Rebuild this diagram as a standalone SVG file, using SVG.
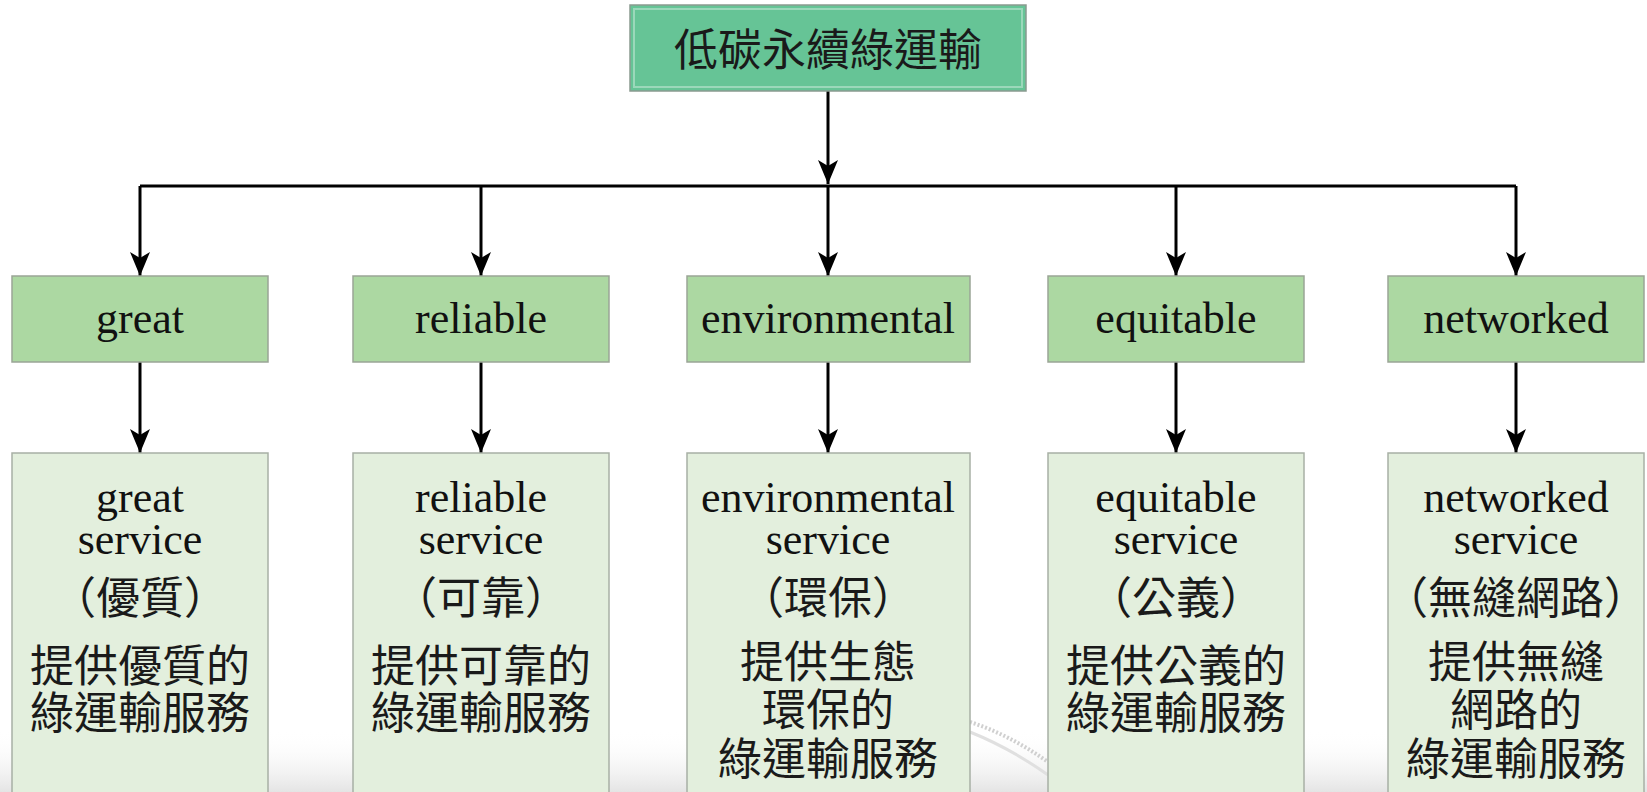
<svg xmlns="http://www.w3.org/2000/svg" width="1647" height="792" viewBox="0 0 1647 792">
<style>
.lat{font-family:"Liberation Serif","Noto Sans CJK TC",serif;font-size:44px;fill:#111;text-anchor:middle}
.cjk{font-family:"Noto Sans CJK TC","Liberation Sans",sans-serif;font-size:44px;fill:#1a1a1a;text-anchor:middle}
.top{fill:#66c496;stroke:#8a9a90;stroke-width:1.5}
.mid{fill:#acd8a2;stroke:#9aa596;stroke-width:1.5}
.low{fill:#e3efdd;stroke:#a8b0a5;stroke-width:1.5}
.inner{fill:none;stroke:#ffffff;stroke-opacity:0.35;stroke-width:2}
.conn{stroke:#000;stroke-width:3;fill:none}
</style>
<defs>
<marker id="ah" viewBox="0 0 24 20" refX="24" refY="10" markerUnits="userSpaceOnUse" markerWidth="24" markerHeight="20" orient="auto">
<path d="M0,0 L24,10 L0,20 L6,10 Z" fill="#000"/>
</marker>
<linearGradient id="bg" x1="0" y1="0" x2="0" y2="1">
<stop offset="0" stop-color="#ffffff" stop-opacity="0"/>
<stop offset="1" stop-color="#e4e4e4"/>
</linearGradient>
</defs>
<rect x="0" y="0" width="1647" height="792" fill="#fff"/>
<rect x="0" y="730" width="1647" height="62" fill="url(#bg)"/>
<path d="M970,722 Q1010,735 1048,762" stroke="#d0d0d0" stroke-width="4" fill="none" stroke-dasharray="2 2"/>
<path d="M970,732 Q1010,748 1048,775" stroke="#e0e0e0" stroke-width="3" fill="none"/>

<g id="conns">
<path class="conn" d="M828,91 V184" marker-end="url(#ah)"/>
<path class="conn" d="M140,186 H1516"/>
<path class="conn" d="M140,186 V276" marker-end="url(#ah)"/>
<path class="conn" d="M481,186 V276" marker-end="url(#ah)"/>
<path class="conn" d="M828,186 V276" marker-end="url(#ah)"/>
<path class="conn" d="M1176,186 V276" marker-end="url(#ah)"/>
<path class="conn" d="M1516,186 V276" marker-end="url(#ah)"/>
<path class="conn" d="M140,362 V453" marker-end="url(#ah)"/>
<path class="conn" d="M481,362 V453" marker-end="url(#ah)"/>
<path class="conn" d="M828,362 V453" marker-end="url(#ah)"/>
<path class="conn" d="M1176,362 V453" marker-end="url(#ah)"/>
<path class="conn" d="M1516,362 V453" marker-end="url(#ah)"/>
</g>

<g id="root">
<rect class="top" x="630" y="5" width="396" height="86"/>
<rect class="inner" x="634" y="9" width="388" height="78"/>
<text class="cjk" x="828" y="66">低碳永續綠運輸</text>
</g>

<g id="great">
<rect class="mid" x="12" y="276" width="256" height="86"/>
<text class="lat" x="140" y="333">great</text>
</g>
<g id="reliable">
<rect class="mid" x="353" y="276" width="256" height="86"/>
<text class="lat" x="481" y="333">reliable</text>
</g>
<g id="environmental">
<rect class="mid" x="687" y="276" width="283" height="86"/>
<text class="lat" x="828" y="333">environmental</text>
</g>
<g id="equitable">
<rect class="mid" x="1048" y="276" width="256" height="86"/>
<text class="lat" x="1176" y="333">equitable</text>
</g>
<g id="networked">
<rect class="mid" x="1388" y="276" width="256" height="86"/>
<text class="lat" x="1516" y="333">networked</text>
</g>

<g id="great-service">
<rect class="low" x="12" y="453" width="256" height="350"/>
<text class="lat" x="140" y="512">great</text>
<text class="lat" x="140" y="554">service</text>
<text class="cjk" x="140" y="614">（優質）</text>
<text class="cjk" x="140" y="682">提供優質的</text>
<text class="cjk" x="140" y="729">綠運輸服務</text>
</g>
<g id="reliable-service">
<rect class="low" x="353" y="453" width="256" height="350"/>
<text class="lat" x="481" y="512">reliable</text>
<text class="lat" x="481" y="554">service</text>
<text class="cjk" x="481" y="614">（可靠）</text>
<text class="cjk" x="481" y="682">提供可靠的</text>
<text class="cjk" x="481" y="729">綠運輸服務</text>
</g>
<g id="environmental-service">
<rect class="low" x="687" y="453" width="283" height="350"/>
<text class="lat" x="828" y="512">environmental</text>
<text class="lat" x="828" y="554">service</text>
<text class="cjk" x="828" y="614">（環保）</text>
<text class="cjk" x="828" y="678">提供生態</text>
<text class="cjk" x="828" y="726">環保的</text>
<text class="cjk" x="828" y="775">綠運輸服務</text>
</g>
<g id="equitable-service">
<rect class="low" x="1048" y="453" width="256" height="350"/>
<text class="lat" x="1176" y="512">equitable</text>
<text class="lat" x="1176" y="554">service</text>
<text class="cjk" x="1176" y="614">（公義）</text>
<text class="cjk" x="1176" y="682">提供公義的</text>
<text class="cjk" x="1176" y="729">綠運輸服務</text>
</g>
<g id="networked-service">
<rect class="low" x="1388" y="453" width="256" height="350"/>
<text class="lat" x="1516" y="512">networked</text>
<text class="lat" x="1516" y="554">service</text>
<text class="cjk" x="1516" y="614">（無縫網路）</text>
<text class="cjk" x="1516" y="678">提供無縫</text>
<text class="cjk" x="1516" y="726">網路的</text>
<text class="cjk" x="1516" y="775">綠運輸服務</text>
</g>
</svg>
